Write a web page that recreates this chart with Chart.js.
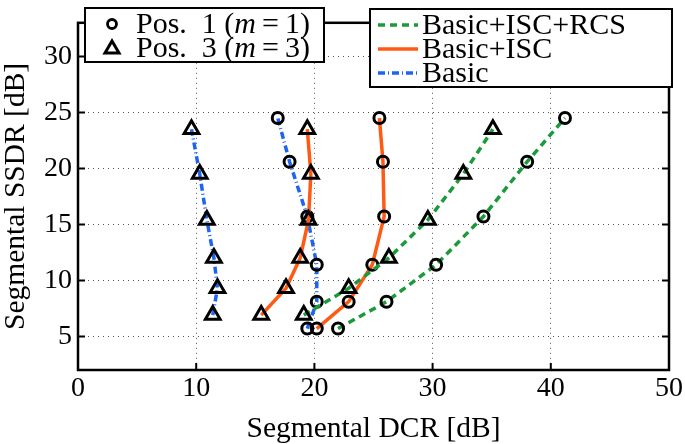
<!DOCTYPE html>
<html>
<head>
<meta charset="utf-8">
<script src="https://cdn.jsdelivr.net/npm/chart.js@4/dist/chart.umd.min.js"></script>
<style>
  body { margin: 0; background: #fff; }
  #wrap { position: relative; width: 685px; height: 444px; }
  .legend {
    position: absolute; box-sizing: border-box; background: #fff;
    border: 2px solid #000; font-family: "Liberation Serif", "DejaVu Serif", serif;
    font-size: 30px; color: #000;
  }
  .row { position: absolute; left: 0; height: 24px; line-height: 24px; white-space: nowrap; }
  .row svg { position: absolute; top: 0; }
  .row span { position: absolute; top: -1px; }
</style>
</head>
<body>
<div id="wrap">
  <canvas id="ssdrChart" width="685" height="444"></canvas>

  <div class="legend" style="left:84px; top:7px; width:241px; height:56px;">
    <div class="row" style="top:3px;">
      <svg width="40" height="24" style="left:8px"><circle cx="18" cy="12" r="4.5" fill="none" stroke="#000" stroke-width="2.8"/></svg>
      <span style="left:50px">Pos.&nbsp; 1 (<i>m</i>&thinsp;=&thinsp;1)</span>
    </div>
    <div class="row" style="top:27px;">
      <svg width="40" height="24" style="left:8px"><polygon points="18,5 25,17 11,17" fill="none" stroke="#000" stroke-width="3"/></svg>
      <span style="left:50px">Pos.&nbsp; 3 (<i>m</i>&thinsp;=&thinsp;3)</span>
    </div>
  </div>

  <div class="legend" style="left:369px; top:8px; width:304px; height:80px;">
    <div class="row" style="top:3px;">
      <svg width="50" height="24" style="left:5px"><line x1="2" y1="12" x2="42" y2="12" stroke="#1a9a3a" stroke-width="3.5" stroke-dasharray="7,5"/></svg>
      <span style="left:51px">Basic+ISC+RCS</span>
    </div>
    <div class="row" style="top:27px;">
      <svg width="50" height="24" style="left:5px"><line x1="2" y1="12" x2="42" y2="12" stroke="#ff5a14" stroke-width="3.5"/></svg>
      <span style="left:51px">Basic+ISC</span>
    </div>
    <div class="row" style="top:51px;">
      <svg width="50" height="24" style="left:5px"><line x1="2" y1="12" x2="42" y2="12" stroke="#1e64f0" stroke-width="3.5" stroke-dasharray="7,3,1,3"/></svg>
      <span style="left:51px">Basic</span>
    </div>
  </div>
</div>

<script>
// SSDR levels (y) for the two positions
const yPos1 = [5.7, 8.1, 11.4, 15.7, 20.6, 24.5];
const yPos3 = [6.9, 9.3, 12.0, 15.4, 19.5, 23.5];

// DCR values (x) per method and position
const basicPos1 = [19.4, 20.2, 20.2, 19.4, 17.9, 16.9];
const basicPos3 = [11.4, 11.8, 11.5, 10.9, 10.3, 9.6];
const iscPos1 = [20.2, 22.9, 24.9, 25.9, 25.8, 25.5];
const iscPos3 = [15.5, 17.6, 18.8, 19.5, 19.7, 19.4];
const rcsPos1 = [22.0, 26.1, 30.3, 34.3, 38.0, 41.2];
const rcsPos3 = [19.1, 22.9, 26.3, 29.6, 32.6, 35.1];

const xTicks = [0, 10, 20, 30, 40, 50];
const yTicks = [5, 10, 15, 20, 25, 30];

const GREEN = '#1a9a3a';
const ORANGE = '#ff5a14';
const BLUE = '#1e64f0';
const SERIF = "'Liberation Serif', 'DejaVu Serif', serif";

const pts = (xs, ys) => xs.map((x, i) => ({ x: x, y: ys[i] }));

function series(label, xs, ys, color, dash, marker) {
    return {
        label: label,
        data: pts(xs, ys),
        showLine: true,
        borderColor: color,
        borderWidth: 3.5,
        borderDash: dash,
        pointStyle: marker,
        pointRadius: marker === 'triangle' ? 8.5 : 5.5,
        pointBorderWidth: 3,
        pointBorderColor: '#000',
        pointBackgroundColor: 'rgba(0,0,0,0)',
        pointHoverRadius: 5
    };
}

// frame + inward ticks, like the original plot box
const boxPlugin = {
    id: 'boxPlugin',
    afterDatasetsDraw(chart) {
        const { ctx, chartArea: a, scales } = chart;
        ctx.save();
        ctx.strokeStyle = '#000';
        ctx.lineWidth = 2;
        const len = 7;
        xTicks.forEach(v => {
            const px = scales.x.getPixelForValue(v);
            ctx.beginPath();
            ctx.moveTo(px, a.bottom); ctx.lineTo(px, a.bottom - len);
            ctx.moveTo(px, a.top); ctx.lineTo(px, a.top + len);
            ctx.stroke();
        });
        yTicks.forEach(v => {
            const py = scales.y.getPixelForValue(v);
            ctx.beginPath();
            ctx.moveTo(a.left, py); ctx.lineTo(a.left + len, py);
            ctx.moveTo(a.right, py); ctx.lineTo(a.right - len, py);
            ctx.stroke();
        });
        ctx.lineWidth = 2.5;
        ctx.strokeRect(a.left, a.top, a.right - a.left, a.bottom - a.top);
        ctx.restore();
    }
};

const tickFont = { family: SERIF, size: 28 };
const titleFont = { family: SERIF, size: 29.5, lineHeight: 1 };

new Chart(document.getElementById('ssdrChart'), {
    type: 'scatter',
    data: {
        datasets: [
            series('Basic+ISC+RCS pos1', rcsPos1, yPos1, GREEN, [7, 5], 'circle'),
            series('Basic+ISC+RCS pos3', rcsPos3, yPos3, GREEN, [7, 5], 'triangle'),
            series('Basic+ISC pos1', iscPos1, yPos1, ORANGE, [], 'circle'),
            series('Basic+ISC pos3', iscPos3, yPos3, ORANGE, [], 'triangle'),
            series('Basic pos1', basicPos1, yPos1, BLUE, [7, 3, 1, 3], 'circle'),
            series('Basic pos3', basicPos3, yPos3, BLUE, [7, 3, 1, 3], 'triangle')
        ]
    },
    options: {
        responsive: false,
        animation: false,
        devicePixelRatio: 1,
        layout: { padding: { top: 2, right: 10, left: 0, bottom: 0 } },
        plugins: {
            legend: { display: false },
            tooltip: { enabled: false }
        },
        scales: {
            x: {
                type: 'linear',
                min: 0,
                max: 50,
                afterBuildTicks: s => { s.ticks = xTicks.map(v => ({ value: v })); },
                afterFit: s => { s.height = 74; },
                ticks: { color: '#000', font: tickFont, padding: 2, maxRotation: 0 },
                grid: { color: '#555', lineWidth: 1, drawTicks: false },
                border: { display: false, dash: [1, 4] },
                title: {
                    display: true,
                    text: 'Segmental DCR [dB]',
                    color: '#000',
                    font: titleFont,
                    padding: { top: 0, bottom: 0 }
                }
            },
            y: {
                type: 'linear',
                min: 2,
                max: 33,
                afterBuildTicks: s => { s.ticks = yTicks.map(v => ({ value: v })); },
                afterFit: s => { s.width = 78; },
                ticks: { color: '#000', font: tickFont, padding: 6 },
                grid: { color: '#555', lineWidth: 1, drawTicks: false },
                border: { display: false, dash: [1, 4] },
                title: {
                    display: true,
                    text: 'Segmental SSDR [dB]',
                    color: '#000',
                    font: titleFont,
                    padding: { top: 1, bottom: 0 }
                }
            }
        }
    },
    plugins: [boxPlugin]
});
</script>
</body>
</html>
